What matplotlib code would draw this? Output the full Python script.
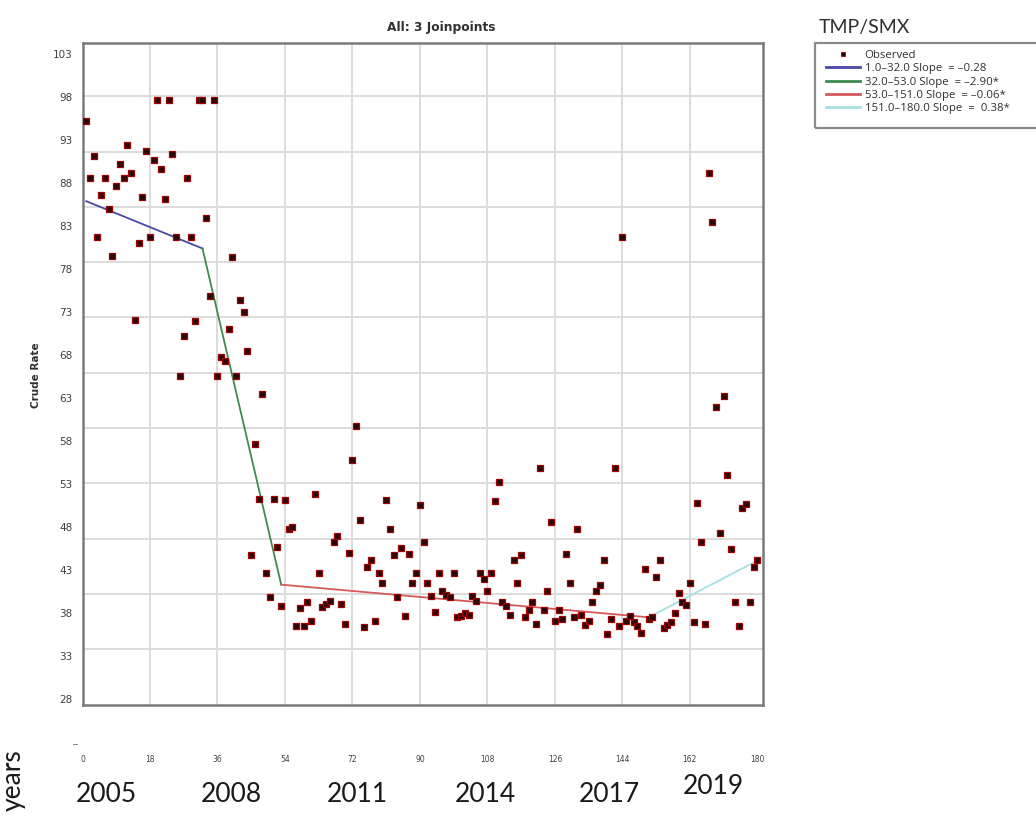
import numpy as np
import matplotlib.pyplot as plt
from matplotlib.lines import Line2D
from matplotlib.patches import Rectangle

# monthly crude rate, months 1..180
months = np.arange(1, 181)
crude_rate = [
    95.2, 88.6, 91.1, 81.7, 86.6, 88.6, 85.0, 79.5, 87.7, 90.2,
    88.6, 92.4, 89.2, 72.1, 81.0, 86.4, 91.7, 81.7, 90.7, 97.7,
    89.7, 86.1, 97.7, 91.4, 81.7, 65.6, 70.2, 88.6, 81.7, 72.0,
    97.7, 97.7, 84.0, 74.9, 97.7, 65.6, 67.8, 67.3, 71.0, 79.4,
    65.6, 74.4, 73.0, 68.5, 44.8, 57.6, 51.3, 63.5, 42.6, 39.9,
    51.3, 45.7, 38.8, 51.1, 47.8, 48.0, 36.5, 38.6, 36.5, 39.3,
    37.1, 51.8, 42.7, 38.7, 39.0, 39.4, 46.3, 46.9, 39.0, 36.7,
    45.0, 55.8, 59.8, 48.8, 36.4, 43.4, 44.2, 37.1, 42.7, 41.5,
    51.1, 47.8, 44.7, 39.9, 45.6, 37.7, 44.9, 41.5, 42.7, 50.6,
    46.3, 41.5, 40.0, 38.1, 42.7, 40.6, 40.1, 39.9, 42.7, 37.5,
    37.7, 38.0, 37.8, 40.0, 39.4, 42.7, 42.0, 40.6, 42.7, 51.0,
    53.2, 39.3, 38.8, 37.8, 44.2, 41.5, 44.7, 37.5, 38.4, 39.3,
    36.7, 54.9, 38.4, 40.6, 48.6, 37.1, 38.4, 37.3, 44.9, 41.5,
    37.5, 47.8, 37.8, 36.6, 37.1, 39.3, 40.6, 41.2, 44.2, 35.6,
    37.3, 54.9, 36.5, 81.7, 37.1, 37.7, 36.9, 36.5, 35.7, 43.1,
    37.3, 37.5, 42.2, 44.2, 36.3, 36.6, 37.0, 38.0, 40.3, 39.3,
    38.9, 41.5, 37.0, 50.8, 46.3, 36.7, 89.2, 83.5, 62.0, 47.3,
    63.2, 54.1, 45.5, 39.3, 36.5, 50.2, 50.7, 39.3, 43.4, 44.2,
]

# joinpoint model: segment ends and fitted values
joinpoints = [1, 32, 53, 151, 180]
fitted = [85.9, 80.4, 41.3, 37.5, 44.1]
seg_colors = ['#4848a8', '#3f8a4c', '#d45a5a', '#a6e0e0']
seg_labels = [
    '1.0\u201332.0 Slope  = \u20130.28',
    '32.0\u201353.0 Slope  = \u20132.90*',
    '53.0\u2013151.0 Slope  = \u20130.06*',
    '151.0\u2013180.0 Slope  =  0.38*',
]

ytick_vals = np.arange(103, 27, -5)
xtick_vals = np.arange(0, 181, 18)
year_labels = ['2005', '2008', '2011', '2014', '2017', '2019']
year_months = [6.3, 39.6, 73.2, 107.3, 140.4, 168.1]

W, H = 1036, 816
fig = plt.figure(figsize=(W / 100, H / 100), dpi=100)
ax = fig.add_axes([82.5 / W, 1 - 705 / H, (763 - 82.5) / W, (705 - 43) / H])

ax.set_xlim(0, 181.5)
ax.set_ylim(27.3, 104.3)

# background grid
for gx in xtick_vals[1:-1]:
    ax.axvline(gx, color='#dcdcdc', lw=1.4, zorder=0)
for gy in 98.1 - 6.43 * np.arange(11):
    ax.axhline(gy, color='#dcdcdc', lw=1.4, zorder=0)

# fitted segments
for i in range(4):
    ax.plot(joinpoints[i:i + 2], fitted[i:i + 2], color=seg_colors[i], lw=1.3, zorder=2)

ax.plot(months, crude_rate, ls='none', marker='s', ms=4.8,
        mfc='#2a0606', mec='#a00000', mew=0.9, zorder=3)

for s in ax.spines.values():
    s.set_color('#7a7a7a')
    s.set_linewidth(1.8)

ax.set_yticks(ytick_vals)
ax.set_yticklabels([str(v) for v in ytick_vals], fontsize=7.5, color='#404040')
ax.set_xticks(xtick_vals)
ax.set_xticklabels([str(v) for v in xtick_vals], fontsize=5.5, color='#404040')
ax.tick_params(axis='y', length=0, pad=7)
ax.tick_params(axis='x', length=0, pad=36)

fig.text(36 / W, 1 - 375 / H, 'Crude Rate', rotation=90, ha='center', va='center',
         fontsize=7.5, fontweight='bold', color='#303030')
fig.text(441 / W, 1 - 27 / H, 'All: 3 Joinpoints', ha='center', va='center',
         fontsize=8.8, fontweight='bold', color='#303030')
fig.text(864 / W, 1 - 27 / H, 'TMP/SMX', ha='center', va='center',
         fontsize=14, family='Lato', color='#303030')
fig.text(76 / W, 1 - 745 / H, '--', ha='center', va='center', fontsize=6, color='#404040')

# year row under the month ticks
for lab, m in zip(year_labels, year_months):
    yy = 787 if lab == '2019' else 794
    fig.text((82.5 + m * 3.75) / W, 1 - yy / H, lab, ha='center', va='center',
             fontsize=19, family='Lato', color='#1a1a1a')
fig.text(13 / W, 1 - 780 / H, 'years', rotation=90, ha='center', va='center',
         fontsize=19, family='Lato', color='#1a1a1a')

# legend
handles = [Line2D([], [], ls='none', marker='s', ms=3, mfc='#2a0606', mec='#a00000', mew=0.6)]
handles += [Line2D([], [], color=c, lw=2) for c in seg_colors]
fig.legend(handles, ['Observed'] + seg_labels, loc='upper left',
           bbox_to_anchor=(826 / W, 1 - 50 / H),
           frameon=False, prop={'family': 'Open Sans', 'size': 8.2},
           labelcolor='#303030',
           handlelength=3.0, handletextpad=0.4, labelspacing=0.2, borderpad=0.0,
           borderaxespad=0.0)
fig.patches.append(Rectangle((815 / W, 1 - 128 / H), 240 / W, 85 / H,
                             transform=fig.transFigure, fill=False,
                             ec='#8a8a8a', lw=1.6))

fig.savefig('out.png', dpi=100, facecolor='white')
